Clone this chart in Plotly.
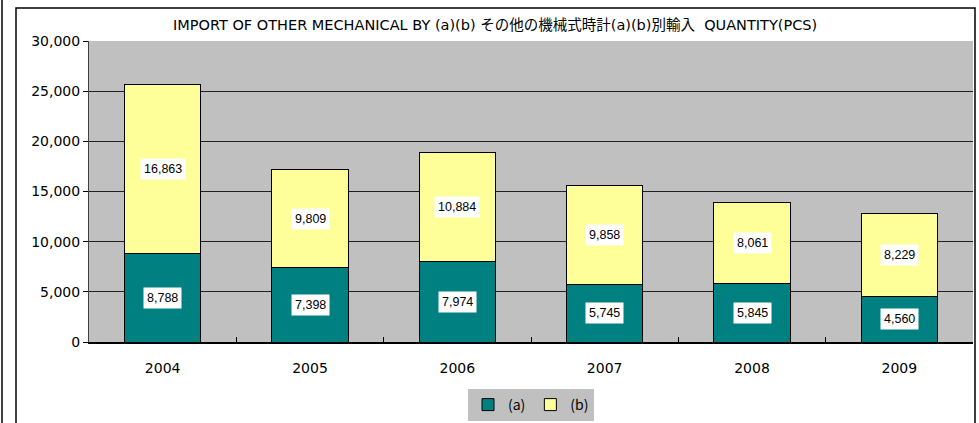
import plotly.graph_objects as go

years = ["2004", "2005", "2006", "2007", "2008", "2009"]
series_a = [8788, 7398, 7974, 5745, 5845, 4560]
series_b = [16863, 9809, 10884, 9858, 8061, 8229]
y_ticks = [0, 5000, 10000, 15000, 20000, 25000, 30000]
title_text = "IMPORT OF OTHER MECHANICAL BY (a)(b) その他の機械式時計(a)(b)別輸入  QUANTITY(PCS)"

W, H = 979, 423
L, R, T, B = 89, 973, 41, 342

def px_x(p):
    return (p - L) / (R - L)

def px_y(p):
    return (B - p) / (B - T)

fig = go.Figure()
fig.add_trace(go.Bar(x=years, y=series_a, name="(a)",
                     marker=dict(color="#008080", line=dict(color="black", width=1))))
fig.add_trace(go.Bar(x=years, y=series_b, name="(b)",
                     marker=dict(color="#FFFF99", line=dict(color="black", width=1))))

lab_font = dict(family="Liberation Sans, Arial, sans-serif", size=12.5, color="black")
for i, yr in enumerate(years):
    a, b = series_a[i], series_b[i]
    fig.add_annotation(x=i, y=a / 2, text=f"{a:,}", showarrow=False,
                       bgcolor="white", borderpad=3, font=lab_font)
    fig.add_annotation(x=i, y=a + b / 2, text=f"{b:,}", showarrow=False,
                       bgcolor="white", borderpad=3, font=lab_font)

fig.add_annotation(xref="paper", yref="paper", x=px_x(495), y=px_y(25),
                   text=title_text, showarrow=False, xanchor="center", yanchor="middle",
                   font=dict(family="DejaVu Sans, Noto Sans CJK JP, sans-serif", size=14.5, color="black"))

# outer frames
fig.add_shape(type="line", xref="paper", yref="paper",
              x0=px_x(2), x1=px_x(2), y0=px_y(-5), y1=px_y(430),
              line=dict(color="black", width=1.5))
fig.add_shape(type="rect", xref="paper", yref="paper",
              x0=px_x(16), x1=px_x(975), y0=px_y(8), y1=px_y(430),
              line=dict(color="black", width=1.5))

fig.update_layout(
    width=W, height=H,
    margin=dict(l=L, r=W - R, t=T, b=H - B, autoexpand=False),
    barmode="stack",
    bargap=0.48,
    paper_bgcolor="white",
    plot_bgcolor="#C0C0C0",
    showlegend=True,
    legend=dict(orientation="h", x=px_x(531), xanchor="center",
                y=px_y(405), yanchor="middle",
                bgcolor="#C0C0C0", font=dict(family="Noto Sans CJK JP, sans-serif", size=14, color="black"),
                itemwidth=30, tracegroupgap=0, traceorder="normal"),
    font=dict(family="DejaVu Sans, sans-serif", size=14, color="black"),
)
fig.update_xaxes(type="category", range=[-0.5, 5.5], showline=True, linecolor="black", linewidth=2,
                 ticks="inside", tickson="boundaries", ticklen=5, tickcolor="black",
                 ticklabelstandoff=12, showgrid=False,
                 tickfont=dict(size=14), mirror=False)
fig.update_yaxes(range=[0, 30000], tickvals=y_ticks,
                 ticktext=[f"{v:,}" for v in y_ticks],
                 showline=True, linecolor="#404040", linewidth=1,
                 showgrid=True, gridcolor="#202020", gridwidth=1,
                 ticks="outside", ticklen=5, tickcolor="black",
                 zeroline=False, tickfont=dict(size=14))

fig.write_html("out.html", config={"displayModeBar": False},
               post_script="document.body.style.margin='0';")
